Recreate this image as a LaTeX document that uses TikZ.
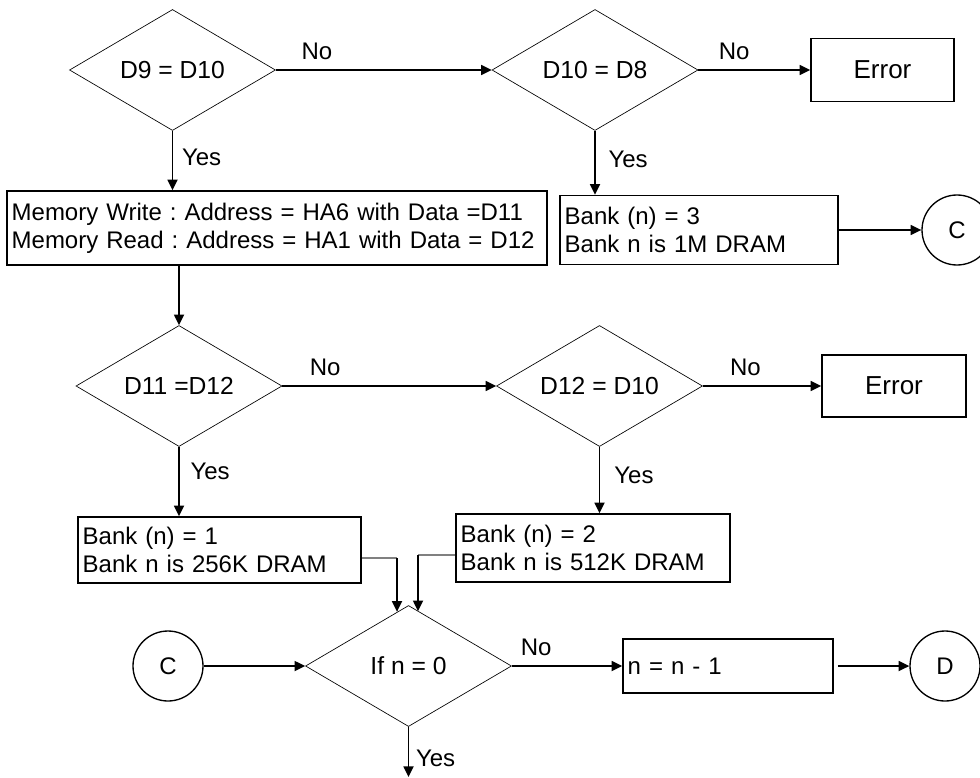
\documentclass[tikz,border=0pt]{standalone}
\usepackage{fontspec}
\setmainfont{Liberation Sans}
\frenchspacing
\usetikzlibrary{arrows.meta, shapes.geometric, calc}

\begin{document}
\begin{tikzpicture}[
  x=0.75pt, y=-0.75pt,
  every node/.style={font=\fontsize{18}{21}\selectfont},
  decision/.style={draw, diamond, aspect=1.7, line width=0.5pt, minimum width=154.5pt, minimum height=90.75pt, inner sep=0pt, font=\fontsize{18.5}{21}\selectfont},
  box/.style={draw, line width=1.2pt, inner xsep=3.5pt, inner ysep=2pt},
  textbox/.style={box, align=left},
  errbox/.style={box, font=\fontsize{19.5}{21}\selectfont},
  conn/.style={draw, circle, line width=1pt, minimum size=52.5pt, inner sep=0pt},
  arrow/.style={-{Triangle[length=8pt, width=7.5pt]}, line width=1.3pt},
  merge/.style={line width=1.2pt, gray},
  lbl/.style={inner sep=1pt}
]
  \useasboundingbox (0,0) rectangle (980,777);

  \node[decision] (eq1) at (172.5,70) {D9 = D10};
  \node[decision] (eq2) at (595,70) {D10 = D8};
  \node[errbox, minimum width=107.25pt, minimum height=47.25pt] (err1) at (882.5,70) {Error};
  \node[textbox, text width=398pt, minimum height=55.5pt] (memrw) at (277,228) {Memory Write : Address = HA6 with Data =D11\\
  Memory Read : Address = HA1 with Data = D12};
  \node[textbox, text width=201.5pt, minimum height=51.75pt] (bank3) at (699,230) {Bank (n) = 3\\
  Bank n is 1M DRAM};
  \node[conn] (toC) at (957,230) {C};

  \node[decision] (eq3) at (179,386) {D11 =D12};
  \node[decision] (eq4) at (599.5,386) {D12 = D10};
  \node[errbox, minimum width=108pt, minimum height=46.5pt] (err2) at (894,386) {Error};
  \node[textbox, text width=205.25pt, minimum height=49.5pt] (bank1) at (219.5,550) {Bank (n) = 1\\
  Bank n is 256K DRAM};
  \node[textbox, text width=198.5pt, minimum height=51pt] (bank2) at (593,548) {Bank (n) = 2\\
  Bank n is 512K DRAM};

  \node[conn] (fromC) at (168,666) {C};
  \node[decision] (nzero) at (408.5,666) {If n = 0};
  \node[textbox, text width=150.5pt, minimum height=40.5pt] (dec) at (728,666) {n = n - 1};
  \node[conn] (toD) at (945,666) {D};

  \coordinate (j1) at (397,558);
  \coordinate (j2) at (418,555);
  \coordinate (exit) at (408.5,777);

  \draw[arrow] (eq1.east) -- (eq2.west) node[lbl, pos=0.19, above=6pt] (no1) {No};
  \draw[arrow] (eq2.east) -- (err1.west) node[lbl, pos=0.32, above=6pt] (no2) {No};
  \draw[arrow] (eq1.south) -- (eq1.south |- memrw.north) node[lbl, pos=0.44, right=5.5pt] (yes1) {Yes};
  \draw[arrow] (eq2.south) -- (eq2.south |- bank3.north) node[lbl, pos=0.44, right=8.5pt] (yes2) {Yes};
  \draw[arrow] (bank3.east) -- (toC.west);
  \draw[arrow] (memrw.south -| eq3.north) -- (eq3.north);

  \draw[arrow] (eq3.east) -- (eq4.west) node[lbl, pos=0.2, above=6pt] (no3) {No};
  \draw[arrow] (eq4.east) -- (err2.west) node[lbl, pos=0.36, above=6pt] (no4) {No};
  \draw[arrow] (eq3.south) -- (eq3.south |- bank1.north) node[lbl, pos=0.36, right=7pt] (yes3) {Yes};
  \draw[arrow] (eq4.south) -- (eq4.south |- bank2.north) node[lbl, pos=0.43, right=9.5pt] (yes4) {Yes};

  \draw[merge] (bank1.east |- j1) -- (j1);
  \draw[merge] (bank2.west |- j2) -- (j2);
  \draw[arrow, shorten >=-5pt] (j1) -- (j1 |- nzero.north);
  \draw[arrow, shorten >=-4.5pt] (j2) -- (j2 |- nzero.north);

  \draw[arrow] (fromC.east) -- (nzero.west);
  \draw[arrow] (nzero.east) -- (dec.west) node[lbl, pos=0.22, above=6pt] (no5) {No};
  \draw[arrow, shorten <=3pt] (dec.east) -- (toD.west);
  \draw[arrow] (nzero.south) -- (exit) node[lbl, pos=0.62, right=4pt] (yes5) {Yes};
\end{tikzpicture}
\end{document}
